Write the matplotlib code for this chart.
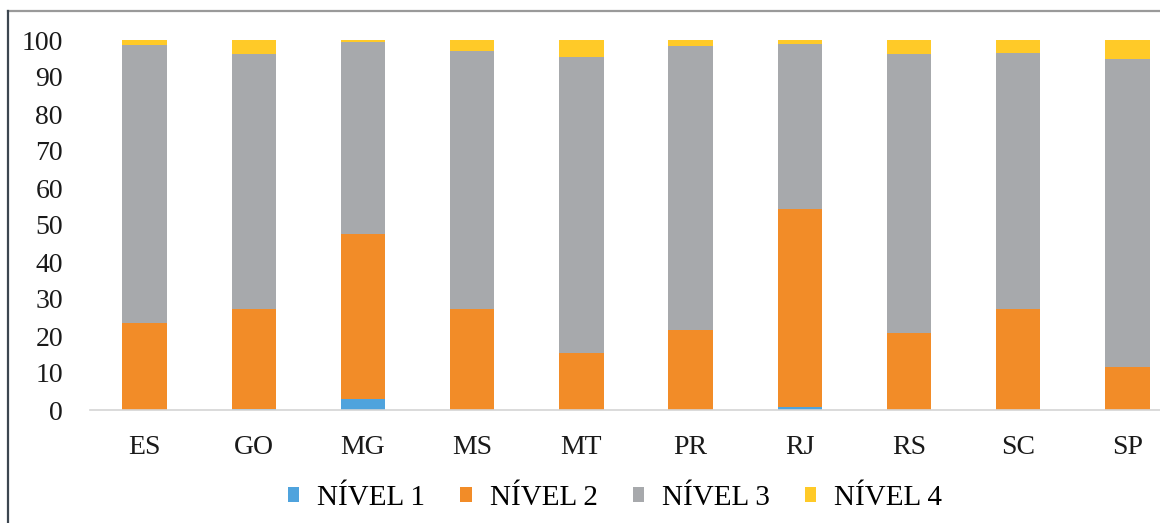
import matplotlib.pyplot as plt
import numpy as np
from matplotlib.lines import Line2D

plt.rcParams['font.family'] = ['Liberation Serif', 'DejaVu Serif']

estados = ['ES', 'GO', 'MG', 'MS', 'MT', 'PR', 'RJ', 'RS', 'SC', 'SP']
nivel1 = [0.0, 0.3, 2.9, 0.0, 0.0, 0.0, 0.8, 0.0, 0.0, 0.0]
nivel2 = [23.6, 26.9, 44.7, 27.3, 15.5, 21.7, 53.4, 20.7, 27.2, 11.5]
nivel3 = [75.0, 68.9, 51.9, 69.7, 80.0, 76.7, 44.6, 75.4, 69.4, 83.3]
nivel4 = [1.4, 3.9, 0.5, 3.0, 4.5, 1.6, 1.2, 3.9, 3.4, 5.2]
series = ['NÍVEL 1', 'NÍVEL 2', 'NÍVEL 3', 'NÍVEL 4']
cores = ['#4FA3DD', '#F28C28', '#A7A9AC', '#FFCA28']

W, H = 1160, 523
fig = plt.figure(figsize=(W / 100, H / 100), dpi=100)
ax = fig.add_axes([90 / W, (H - 410) / H, 1092 / W, 370 / H])

x = np.arange(len(estados))
base = np.zeros(len(estados))
for vals, nome, cor in zip([nivel1, nivel2, nivel3, nivel4], series, cores):
    vals = np.array(vals)
    ax.bar(x, vals, width=0.405, bottom=base, color=cor, label=nome, linewidth=0)
    base += vals

ax.set_xlim(-0.5, len(estados) - 0.5)
ax.set_ylim(0, 100)
ax.set_yticks(np.arange(0, 101, 10))
ax.set_xticks(x)
ax.set_xticklabels(estados)
ax.tick_params(axis='both', length=0, labelsize=20, colors='#1a1a1a')
ax.tick_params(axis='y', pad=19.5)
ax.tick_params(axis='x', pad=18)
for s in ['top', 'right', 'left']:
    ax.spines[s].set_visible(False)
ax.spines['bottom'].set_color('#d4d4d4')
ax.spines['bottom'].set_linewidth(1.2)

fig.legend(loc='center', bbox_to_anchor=(615 / W, 1 - 498 / H), ncol=4,
           frameon=False, fontsize=21, handlelength=0.38, handleheight=0.38,
           handletextpad=0.62, columnspacing=1.2)

# moldura
fig.add_artist(Line2D([8 / W, 1], [1 - 11 / H, 1 - 11 / H], color='#9a9a9a', lw=1.6))
fig.add_artist(Line2D([8 / W, 8 / W], [0, 1 - 11 / H], color='#3c4650', lw=1.6))

fig.savefig('out.png', dpi=100)
